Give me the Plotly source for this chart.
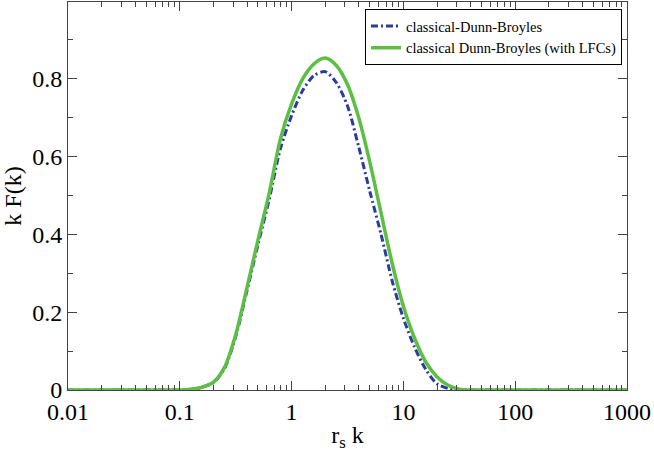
import plotly.graph_objects as go

# r_s k grid (log spaced)
rs_k = [0.01, 0.0316, 0.0794, 0.1, 0.126, 0.158, 0.2, 0.251, 0.316, 0.398,
        0.501, 0.631, 0.794, 1.0, 1.259, 1.585, 1.995, 2.512, 3.162, 3.981,
        5.012, 6.31, 7.943, 10.0, 12.59, 15.85, 19.95, 25.12, 31.62, 39.81,
        100.0, 1000.0]

# classical-Dunn-Broyles
kf_classical = [0.0, 0.0, 0.0, 0.0, 0.002, 0.007, 0.019, 0.055, 0.137, 0.254,
                0.374, 0.49, 0.62, 0.705, 0.77, 0.808, 0.818, 0.79, 0.73, 0.625,
                0.51, 0.40, 0.28, 0.184, 0.11, 0.053, 0.016, 0.004, 0.0, 0.0,
                0.0, 0.0]

# classical Dunn-Broyles (with LFCs)
kf_lfc = [0.0, 0.0, 0.0, 0.0, 0.002, 0.007, 0.02, 0.058, 0.142, 0.262,
          0.386, 0.506, 0.645, 0.735, 0.80, 0.838, 0.853, 0.834, 0.785, 0.70,
          0.585, 0.455, 0.325, 0.215, 0.133, 0.072, 0.034, 0.012, 0.002, 0.0,
          0.0, 0.0]

serif = "Liberation Serif, Times New Roman, serif"

fig = go.Figure()
fig.add_trace(go.Scatter(x=rs_k, y=kf_classical, mode="lines",
                         name="classical-Dunn-Broyles",
                         line=dict(color="#2b3c9c", width=3, dash="7px,3px,2px,3px",
                                   shape="spline", smoothing=0.8)))
fig.add_trace(go.Scatter(x=rs_k, y=kf_lfc, mode="lines",
                         name="classical Dunn-Broyles (with LFCs)",
                         line=dict(color="#5cbf44", width=3.5,
                                   shape="spline", smoothing=0.8)))

axis_style = dict(showline=True, linecolor="#444", linewidth=1, mirror="allticks",
                  ticks="inside", ticklen=9, tickcolor="#444", showgrid=False,
                  zeroline=False, automargin=False,
                  tickfont=dict(family=serif, size=24, color="black"))

fig.update_xaxes(type="log", range=[-2, 3],
                 tickvals=[0.01, 0.1, 1, 10, 100, 1000],
                 ticktext=["0.01", "0.1", "1", "10", "100", "1000"],
                 minor=dict(ticks="inside", ticklen=5, tickcolor="#444",
                            tickvals=[m * 10 ** e for e in range(-2, 3) for m in range(2, 10)]),
                 title=dict(text="r<sub>s</sub> k", font=dict(family=serif, size=24, color="black"),
                            standoff=4),
                 **axis_style)
fig.update_yaxes(range=[0, 0.997], tickvals=[0, 0.2, 0.4, 0.6, 0.8],
                 ticktext=["0", "0.2", "0.4", "0.6", "0.8"],
                 minor=dict(ticks="inside", ticklen=5, tickcolor="#444",
                            tickvals=[0.1, 0.3, 0.5, 0.7, 0.9]),
                 title=dict(text="k F(k)", font=dict(family=serif, size=24, color="black"),
                            standoff=4),
                 **axis_style)

fig.update_layout(
    width=654, height=452,
    margin=dict(l=68, r=27, t=2, b=62),
    plot_bgcolor="white", paper_bgcolor="white",
    legend=dict(x=0.991, y=0.982, xanchor="right", yanchor="top",
                bgcolor="white", bordercolor="black", borderwidth=1,
                font=dict(family=serif, size=14.5, color="black"),
                tracegroupgap=0, itemwidth=30),
)

# the page body has a default 8px margin; drop it so the figure sits at the corner
fig.write_html("out.html", config={"displayModeBar": False},
               post_script="document.body.style.margin='0';")
